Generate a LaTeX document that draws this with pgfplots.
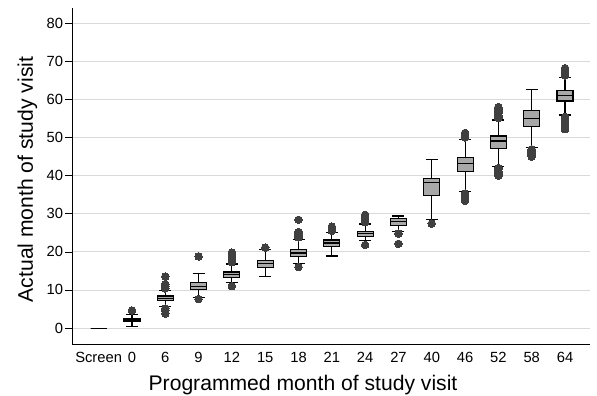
\documentclass[border=0pt]{standalone}
\usepackage{pgfplots}
\pgfplotsset{compat=1.18}
\usepgfplotslibrary{statistics}
\usepackage{fontspec}
\setmainfont{Liberation Sans}
\definecolor{boxgray}{HTML}{A8A8A8}
\definecolor{outgray}{HTML}{404040}
\definecolor{gridgray}{HTML}{D9D9D9}
\begin{document}
\begin{tikzpicture}
\useasboundingbox (-72bp,-52bp) rectangle (525bp,344bp);
\begin{axis}[
  at={(0,0)}, anchor=south west,
  width=518bp, height=336bp, scale only axis,
  xmin=-0.8, xmax=14.75, ymin=-4.2, ymax=84,
  axis x line=bottom, axis y line=left,
  axis line style={-, black, line width=0.9pt},
  xtick={0,...,14},
  xticklabels={Screen,0,6,9,12,15,18,21,24,27,40,46,52,58,64},
  ytick={0,10,...,80},
  major x tick style={draw=none},
  tick align=outside,
  major tick length=6.5bp,
  y tick style={black, line width=0.6pt},
  ymajorgrids, grid style={gridgray, line width=0.8pt},
  tick label style={font=\fontsize{14.8}{17}\selectfont},
  xticklabel style={anchor=base, yshift=-12bp},
  yticklabel style={xshift=1bp},
  /pgf/number format/assume math mode=true,
  xlabel={Programmed month of study visit},
  ylabel={Actual month of study visit},
  label style={font=\fontsize{21.2}{24}\selectfont},
  xlabel style={at={([xshift=-28bp,yshift=-46bp]axis description cs:0.5,0)}, anchor=base},
  ylabel style={at={([xshift=-39bp,yshift=-3.5bp]axis description cs:0,0.5)}, anchor=base},
  boxplot/draw direction=y,
  boxplot/box extend=0.48,
  boxplot/whisker extend=0.36,
  every axis plot/.append style={draw=black, line width=1.15pt, fill=boxgray,
    mark=*, mark size=3.8bp, mark options={draw=outgray, fill=outgray, line width=0pt}},
]
\addplot[boxplot prepared={draw position=0, lower whisker=0, lower quartile=0, median=0, upper quartile=0, upper whisker=0}, draw=black, line width=0.7pt] coordinates {};
\addplot[boxplot prepared={draw position=1, lower whisker=0.3, lower quartile=1.6, median=2.1, upper quartile=2.5, upper whisker=3.5}] coordinates {(1,4.6)};
\addplot[boxplot prepared={draw position=2, lower whisker=5.6, lower quartile=7.2, median=7.8, upper quartile=8.4, upper whisker=9.9}] coordinates {(2,10.4)(2,11.0)(2,11.5)(2,13.5)(2,5.1)(2,4.6)(2,3.8)};
\addplot[boxplot prepared={draw position=3, lower whisker=8.1, lower quartile=10.1, median=11.0, upper quartile=11.9, upper whisker=14.2}] coordinates {(3,18.8)(3,7.6)};
\addplot[boxplot prepared={draw position=4, lower whisker=12.0, lower quartile=13.2, median=14.0, upper quartile=14.7, upper whisker=16.8}] coordinates {(4,17.3)(4,17.8)(4,18.3)(4,18.8)(4,19.3)(4,19.8)(4,11.0)};
\addplot[boxplot prepared={draw position=5, lower whisker=13.5, lower quartile=15.9, median=16.9, upper quartile=17.8, upper whisker=20.5}] coordinates {(5,21.1)};
\addplot[boxplot prepared={draw position=6, lower whisker=17.0, lower quartile=18.7, median=19.7, upper quartile=20.6, upper whisker=23.3}] coordinates {(6,23.8)(6,24.3)(6,24.8)(6,25.2)(6,28.4)(6,16.0)};
\addplot[boxplot prepared={draw position=7, lower whisker=18.9, lower quartile=21.5, median=22.3, upper quartile=23.1, upper whisker=25.0}] coordinates {(7,25.5)(7,26.0)(7,26.6)};
\addplot[boxplot prepared={draw position=8, lower whisker=22.9, lower quartile=24.0, median=24.7, upper quartile=25.4, upper whisker=27.3}] coordinates {(8,27.8)(8,28.3)(8,28.8)(8,29.3)(8,29.7)(8,21.8)};
\addplot[boxplot prepared={draw position=9, lower whisker=25.3, lower quartile=26.9, median=27.9, upper quartile=28.8, upper whisker=29.4}] coordinates {(9,24.8)(9,22.1)};
\addplot[boxplot prepared={draw position=10, lower whisker=28.5, lower quartile=34.7, median=38.3, upper quartile=39.3, upper whisker=44.3}] coordinates {(10,27.4)};
\addplot[boxplot prepared={draw position=11, lower whisker=35.8, lower quartile=41.0, median=43.2, upper quartile=44.8, upper whisker=49.5}] coordinates {(11,50.0)(11,50.4)(11,50.8)(11,51.2)(11,35.3)(11,34.9)(11,34.5)(11,34.1)(11,33.7)(11,33.4)};
\addplot[boxplot prepared={draw position=12, lower whisker=42.5, lower quartile=47.1, median=49.1, upper quartile=50.4, upper whisker=54.6}] coordinates {(12,55.1)(12,55.5)(12,55.9)(12,56.3)(12,56.7)(12,57.1)(12,57.5)(12,58.0)(12,42.0)(12,41.6)(12,41.2)(12,40.8)(12,40.4)(12,40.0)};
\addplot[boxplot prepared={draw position=13, lower whisker=47.4, lower quartile=53.0, median=54.9, upper quartile=57.0, upper whisker=62.6}] coordinates {(13,46.9)(13,46.5)(13,46.1)(13,45.7)(13,45.3)(13,45.0)};
\addplot[boxplot prepared={draw position=14, lower whisker=55.9, lower quartile=59.6, median=61.0, upper quartile=62.3, upper whisker=65.8}] coordinates {(14,66.3)(14,66.7)(14,67.1)(14,67.5)(14,67.9)(14,68.2)(14,55.4)(14,55.0)(14,54.6)(14,54.2)(14,53.8)(14,53.4)(14,53.0)(14,52.6)(14,52.2)};
\end{axis}
\end{tikzpicture}
\end{document}
